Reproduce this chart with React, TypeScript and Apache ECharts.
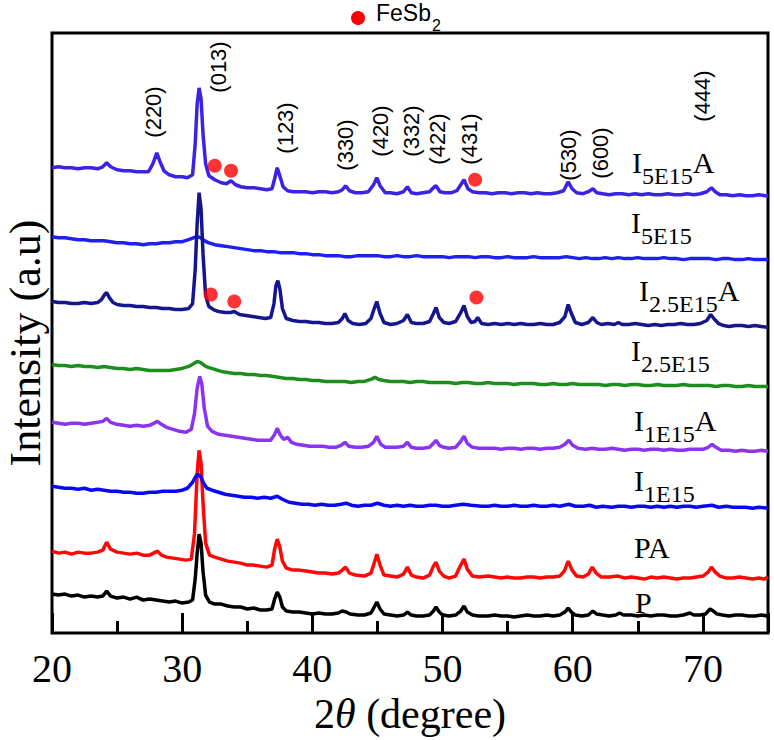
import React, { useEffect, useRef } from "react";
import * as echarts from "echarts";

// 2θ (degree) vs intensity (a.u., curves stacked with offsets)
const seriesNames = ["I5E15A", "I5E15", "I2.5E15A", "I2.5E15", "I1E15A", "PA", "I1E15", "P"];

const dataI5E15A: number[][] = [[20,466],[20.5,467],[21,466],[21.5,466],[22,465],[22.5,466],[23,466],[23.5,465],[23.9,467],[24.2,471],[24.5,467],[25,464],[25.5,463],[26,463],[26.5,462],[27,462],[27.4,462],[27.75,470],[28.05,481],[28.3,472],[28.6,463],[29,459],[29.5,457],[30,457],[30.4,456],[30.8,459],[31.0,490],[31.15,530],[31.3,546],[31.45,535],[31.6,500],[31.8,470],[32.05,458],[32.5,454],[33,451],[33.4,450],[33.75,453],[34.1,449],[34.5,447],[35,446],[35.5,446],[36,445],[36.5,444],[36.9,445],[37.1,455],[37.3,466],[37.5,458],[37.75,447],[38.1,443],[38.5,442],[39,442],[39.5,442],[40,441],[40.5,442],[41,442],[41.5,441],[42,442],[42.3,444],[42.55,448],[42.85,443],[43.3,441],[43.8,441],[44.3,442],[44.7,449],[44.95,456],[45.2,448],[45.6,441],[46,441],[46.5,440],[47,442],[47.3,447],[47.6,441],[48,440],[48.5,441],[49,442],[49.3,446],[49.5,448],[49.8,442],[50.2,441],[50.7,441],[51.1,443],[51.4,449],[51.65,454],[51.95,445],[52.3,442],[52.8,441],[53.3,441],[53.8,440],[54.3,441],[54.8,441],[55.3,440],[55.8,441],[56.3,441],[56.8,440],[57.3,441],[57.8,440],[58.3,440],[58.8,441],[59.3,443],[59.65,452],[59.95,445],[60.3,441],[60.8,440],[61.2,442],[61.55,445],[61.85,441],[62.3,440],[62.8,439],[63.3,440],[63.8,440],[64.3,439],[64.8,440],[65.3,439],[65.8,440],[66.3,439],[66.8,439],[67.3,440],[67.8,439],[68.3,439],[68.8,440],[69.3,439],[69.8,440],[70.3,442],[70.65,446],[70.95,442],[71.3,439],[71.8,439],[72.3,438],[72.8,439],[73.3,438],[73.8,438],[74.3,439],[74.8,438],[75,438]];

const dataI5E15: number[][] = [[20,397],[20.5,396],[21,396],[21.5,395],[22,394],[22.5,394],[23,393],[23.5,393],[24,393],[24.5,392],[25,391],[25.5,391],[26,390],[26.5,390],[27,389],[27.5,390],[28,390],[28.5,391],[29,391],[29.5,392],[30,392],[30.5,394],[30.9,396],[31.15,397],[31.4,396],[31.7,393],[32,391],[32.5,389],[33,388],[33.5,387],[34,386],[34.5,385],[35,384],[35.5,383],[36,383],[36.5,382],[37,382],[37.5,381],[38,381],[38.5,381],[39,380],[39.5,380],[40,379],[40.5,379],[41,378],[41.5,378],[42,378],[42.5,377],[43,377],[43.5,378],[44,378],[44.5,378],[45,378],[45.5,377],[46,377],[46.5,378],[47,377],[47.5,377],[48,378],[48.5,377],[49,377],[49.5,377],[50,377],[50.5,376],[51,377],[51.5,377],[52,377],[52.5,376],[53,377],[53.5,377],[54,376],[54.5,376],[55,377],[55.5,376],[56,376],[56.5,376],[57,377],[57.5,376],[58,376],[58.5,376],[59,376],[59.5,377],[60,376],[60.5,375],[61,376],[61.5,375],[62,375],[62.5,376],[63,375],[63.5,376],[64,375],[64.5,375],[65,376],[65.5,375],[66,375],[66.5,375],[67,376],[67.5,375],[68,375],[68.5,374],[69,375],[69.5,375],[70,375],[70.5,375],[71,374],[71.5,375],[72,375],[72.5,374],[73,374],[73.5,375],[74,374],[74.5,374],[75,374]];

const dataI25E15A: number[][] = [[20,332],[20.5,331],[21,331],[21.5,330],[22,330],[22.5,331],[23,330],[23.5,331],[23.8,334],[24.05,339],[24.2,341],[24.4,336],[24.7,331],[25,329],[25.5,328],[26,328],[26.5,327],[27,327],[27.5,326],[28,326],[28.5,325],[29,325],[29.5,324],[30,324],[30.5,325],[30.8,330],[31.0,364],[31.15,410],[31.3,441],[31.45,425],[31.6,380],[31.8,338],[32.05,327],[32.4,324],[32.8,322],[33.3,321],[33.7,321],[34,322],[34.4,319],[34.9,318],[35.4,317],[35.9,316],[36.4,315],[36.8,316],[37.05,330],[37.2,348],[37.35,353],[37.5,345],[37.7,325],[38,315],[38.5,313],[39,312],[39.5,312],[40,311],[40.5,311],[41,310],[41.5,310],[42,311],[42.3,315],[42.5,320],[42.75,313],[43.1,310],[43.6,309],[44.1,310],[44.5,315],[44.75,325],[44.95,332],[45.2,320],[45.5,311],[46,309],[46.5,310],[47,313],[47.3,319],[47.6,311],[48,310],[48.5,310],[49,312],[49.3,320],[49.5,326],[49.75,316],[50.1,311],[50.5,310],[51,312],[51.4,321],[51.65,328],[51.9,317],[52.2,311],[52.5,312],[52.7,316],[53,310],[53.5,309],[54,310],[54.5,309],[55,310],[55.5,309],[56,310],[56.5,309],[57,309],[57.5,310],[58,309],[58.5,309],[59,311],[59.4,317],[59.65,329],[59.9,320],[60.2,311],[60.7,309],[61.2,311],[61.55,316],[61.85,311],[62.2,309],[62.7,310],[63.2,309],[63.5,311],[63.8,309],[64.3,309],[64.8,310],[65.3,309],[65.8,308],[66.3,309],[66.8,308],[67.3,309],[67.8,309],[68.3,310],[68.8,309],[69.3,309],[69.8,310],[70.3,313],[70.6,319],[70.9,314],[71.2,310],[71.6,308],[72,307],[72.5,308],[73,308],[73.5,307],[74,308],[74.5,307],[75,306]];

const dataI25E15: number[][] = [[20,269],[20.5,268],[21,268],[21.5,267],[22,268],[22.5,267],[23,267],[23.5,266],[24,267],[24.5,266],[25,265],[25.5,265],[26,264],[26.5,265],[27,264],[27.5,263],[28,263],[28.5,263],[29,263],[29.5,264],[30,265],[30.5,267],[30.9,270],[31.15,272],[31.4,271],[31.7,268],[32,266],[32.5,264],[33,262],[33.5,261],[34,260],[34.5,260],[35,259],[35.5,259],[36,258],[36.5,258],[37,257],[37.5,256],[38,255],[38.5,255],[39,254],[39.5,254],[40,253],[40.5,253],[41,252],[41.5,252],[42,252],[42.5,252],[43,251],[43.5,252],[44,252],[44.5,254],[44.8,256],[45.1,254],[45.5,253],[46,252],[46.5,252],[47,252],[47.5,251],[48,252],[48.5,252],[49,251],[49.5,251],[50,251],[50.5,251],[51,250],[51.5,251],[52,251],[52.5,250],[53,250],[53.5,251],[54,250],[54.5,250],[55,250],[55.5,249],[56,250],[56.5,250],[57,250],[57.5,249],[58,249],[58.5,250],[59,249],[59.5,249],[60,250],[60.5,249],[61,249],[61.5,249],[62,249],[62.5,248],[63,249],[63.5,249],[64,248],[64.5,249],[65,249],[65.5,248],[66,248],[66.5,249],[67,248],[67.5,248],[68,248],[68.5,249],[69,248],[69.5,248],[70,248],[70.5,248],[71,247],[71.5,248],[72,248],[72.5,247],[73,247],[73.5,248],[74,247],[74.5,247],[75,247]];

const dataI1E15A: number[][] = [[20,211],[20.5,210],[21,209],[21.5,210],[22,210],[22.5,209],[23,210],[23.5,211],[23.9,212],[24.2,215],[24.5,211],[25,209],[25.5,208],[26,207],[26.5,208],[27,207],[27.5,208],[27.8,210],[28.1,212],[28.4,209],[28.8,206],[29.3,204],[29.8,202],[30.3,201],[30.7,204],[30.95,220],[31.15,245],[31.35,257],[31.5,250],[31.7,225],[31.95,207],[32.3,202],[32.8,199],[33.3,198],[33.8,197],[34.3,196],[34.8,195],[35.3,194],[35.8,193],[36.3,193],[36.8,193],[37.1,199],[37.3,205],[37.55,198],[37.8,194],[38.1,196],[38.4,191],[38.8,189],[39.3,188],[39.8,187],[40.3,187],[40.8,187],[41.3,186],[41.8,186],[42.2,188],[42.5,191],[42.8,187],[43.3,186],[43.8,186],[44.3,187],[44.7,191],[44.95,197],[45.25,189],[45.6,186],[46,186],[46.5,186],[47,187],[47.3,191],[47.6,186],[48,185],[48.5,185],[49,186],[49.3,190],[49.5,193],[49.75,188],[50.1,186],[50.5,185],[51,186],[51.4,192],[51.65,197],[51.9,190],[52.3,186],[52.8,185],[53.5,185],[54,185],[54.5,184],[55,185],[55.5,185],[56,184],[56.5,185],[57,185],[57.5,184],[58,185],[58.5,185],[59,186],[59.4,189],[59.7,193],[60,188],[60.4,185],[61,184],[61.5,185],[62,184],[62.5,184],[63,185],[63.5,184],[64,183],[64.5,184],[65,184],[65.5,183],[66,184],[66.5,184],[67,183],[67.5,184],[68,183],[68.5,183],[69,184],[69.5,184],[70,184],[70.4,186],[70.7,189],[71,186],[71.4,183],[72,183],[72.5,182],[73,183],[73.5,182],[74,182],[74.5,183],[75,182]];

const dataI1E15: number[][] = [[20,147],[20.5,146],[21,145],[21.5,145],[22,144],[22.5,145],[23,143],[23.5,144],[24,143],[24.5,142],[25,142],[25.5,141],[26,141],[26.5,140],[27,140],[27.5,141],[28,141],[28.5,142],[29,142],[29.5,142],[30,143],[30.4,145],[30.8,151],[31.05,157],[31.2,159],[31.4,157],[31.65,150],[31.9,145],[32.3,143],[32.8,141],[33.3,139],[33.8,138],[34.3,137],[34.8,136],[35.3,136],[35.8,135],[36.3,136],[36.8,135],[37.3,137],[37.7,134],[38.2,131],[38.7,130],[39.2,129],[39.7,129],[40.2,128],[40.7,129],[41.2,128],[41.7,128],[42.2,129],[42.6,130],[43,128],[43.5,127],[44,128],[44.5,128],[45,130],[45.5,128],[46,127],[46.5,128],[47,127],[47.5,128],[48,127],[48.5,127],[49,128],[49.5,128],[50,127],[50.5,127],[51,128],[51.6,129],[52.2,128],[53,127],[53.5,127],[54,128],[54.5,127],[55,127],[55.5,128],[56,127],[56.5,127],[57,128],[57.5,127],[58,127],[58.5,128],[59,127],[59.7,129],[60.2,127],[60.8,127],[61.3,128],[61.8,126],[62.3,127],[63,126],[63.5,127],[64,127],[64.5,126],[65,127],[65.5,127],[66,126],[66.5,127],[67,126],[67.5,127],[68,126],[68.5,127],[69,127],[69.5,126],[70,127],[70.7,128],[71.2,126],[71.8,127],[72.3,126],[72.8,126],[73.3,126],[73.8,125],[74.3,126],[75,125]];

const dataPA: number[][] = [[20,82],[20.5,80],[21,81],[21.5,79],[22,81],[22.5,80],[23,80],[23.5,81],[23.9,83],[24.2,91],[24.5,84],[25,81],[25.5,80],[26,79],[26.5,80],[27,78],[27.5,78],[27.8,80],[28.1,82],[28.4,78],[28.8,76],[29.3,75],[29.8,74],[30.3,73],[30.7,74],[30.95,100],[31.15,160],[31.3,183],[31.45,170],[31.6,130],[31.8,90],[32.1,78],[32.5,76],[33,74],[33.5,72],[34,71],[34.5,70],[35,68],[35.5,68],[36,67],[36.5,66],[36.9,68],[37.1,84],[37.3,94],[37.5,86],[37.7,72],[38,65],[38.5,63],[39,63],[39.5,62],[40,61],[40.5,60],[41,60],[41.5,59],[42,60],[42.3,63],[42.55,66],[42.85,60],[43.3,58],[44,57],[44.5,60],[44.75,70],[44.95,79],[45.2,68],[45.5,58],[46,57],[46.5,56],[47,59],[47.3,66],[47.6,58],[48,56],[48.5,55],[49,58],[49.3,67],[49.5,71],[49.75,62],[50.1,57],[50.5,55],[51,57],[51.4,68],[51.65,74],[51.9,64],[52.3,57],[52.8,56],[53.5,57],[54,56],[54.5,55],[55,56],[55.5,55],[56,55],[56.5,56],[57,56],[57.5,55],[58,56],[58.5,56],[59,57],[59.35,62],[59.65,72],[59.95,63],[60.3,57],[60.8,56],[61.2,59],[61.5,66],[61.8,60],[62.2,56],[62.8,56],[63.5,57],[64,55],[64.5,56],[65,55],[65.5,54],[66,56],[66.5,55],[67,56],[67.5,55],[68,54],[68.5,55],[69,55],[69.5,56],[70,57],[70.4,61],[70.65,66],[70.95,61],[71.3,57],[71.8,55],[72.3,55],[72.8,56],[73.3,55],[73.8,54],[74.3,55],[74.7,54],[75,56]];

const dataP: number[][] = [[20,39],[20.5,38],[21,39],[21.5,37],[22,38],[22.5,36],[23,37],[23.5,36],[23.9,37],[24.2,42],[24.5,37],[25,35],[25.5,36],[26,34],[26.5,36],[27,33],[27.5,34],[28,33],[28.5,32],[29,31],[29.5,32],[30,30],[30.5,31],[30.8,33],[31.0,54],[31.15,80],[31.3,99],[31.45,90],[31.6,62],[31.8,38],[32.1,31],[32.5,29],[33,29],[33.5,27],[34,26],[34.5,26],[35,24],[35.5,25],[36,23],[36.5,23],[36.9,24],[37.1,34],[37.3,41],[37.5,36],[37.7,26],[38,22],[38.5,21],[39,21],[39.5,20],[40,19],[40.5,20],[41,19],[41.5,19],[42,20],[42.3,22],[42.6,21],[42.9,19],[43.5,18],[44,18],[44.5,20],[44.75,26],[44.95,31],[45.2,24],[45.5,19],[46,18],[46.5,17],[47,18],[47.3,21],[47.6,18],[48,17],[48.5,17],[49,18],[49.3,22],[49.5,26],[49.75,21],[50,18],[50.5,17],[51,18],[51.4,22],[51.65,27],[51.9,21],[52.3,18],[52.8,17],[53.5,17],[54,18],[54.5,17],[55,17],[55.5,16],[56,17],[56.5,18],[57,17],[57.5,17],[58,18],[58.5,17],[59,18],[59.4,21],[59.65,25],[59.9,21],[60.2,18],[60.7,17],[61.2,18],[61.55,22],[61.85,19],[62.3,18],[62.8,17],[63.3,18],[63.6,20],[63.9,18],[64.5,18],[65,17],[65.5,18],[66,17],[66.5,18],[67,18],[67.5,17],[68,17],[68.5,18],[69,20],[69.3,18],[69.8,18],[70.2,19],[70.55,24],[70.8,22],[71.1,19],[71.5,18],[72,17],[72.5,18],[73,18],[73.5,17],[74,17],[74.5,18],[75,17]];

// FeSb2 impurity markers [2θ, intensity]
const feSb2Markers: number[][] = [[32.5,468],[33.75,463],[52.5,454],[32.2,339],[34.0,332],[52.6,336]];

// x tick labels
const xTickLabels = [20, 30, 40, 50, 60, 70];

const seriesData = [dataI5E15A, dataI5E15, dataI25E15A, dataI25E15, dataI1E15A, dataPA, dataI1E15, dataP];
const seriesColors = ["#3b22e4", "#1d20ef", "#15168e", "#1d8e1d", "#8a33f2", "#ff0707", "#0808f4", "#000000"];

const SERIF = "Liberation Serif";
const SANS = "Liberation Sans";

function measure(text: string, size: number, family: string): number {
  const c = document.createElement("canvas").getContext("2d");
  if (!c) return text.length * size * 0.5;
  c.font = `${size}px "${family}"`;
  return c.measureText(text).width;
}

export default function App() {
  const ref = useRef<HTMLDivElement>(null);
  useEffect(() => {
    document.body.style.margin = "0";
    const chart = echarts.init(ref.current as HTMLDivElement, null, { renderer: "svg" });

    const lineSeries = seriesNames.map((name, i) => ({
      name,
      type: "line",
      data: seriesData[i],
      showSymbol: false,
      symbol: "none",
      lineStyle: { color: seriesColors[i], width: 3.5 },
      itemStyle: { color: seriesColors[i] },
      xAxisIndex: 0,
      yAxisIndex: 0,
    }));

    chart.setOption({
      animation: false,
      backgroundColor: "#ffffff",
      textStyle: { fontFamily: SERIF },
      grid: { left: 52, right: 6, top: 33, bottom: 106, show: true, borderColor: "#000", borderWidth: 3, backgroundColor: "transparent" },
      xAxis: [
        {
          type: "value",
          min: 20,
          max: 75,
          interval: 10,
          position: "bottom",
          axisLine: { show: false },
          axisTick: { show: true, inside: true, length: 20, lineStyle: { color: "#000", width: 3 } },
          axisLabel: { show: false },
          splitLine: { show: false },
          name: "{n|2}{i|θ}{n| (degree)}",
          nameLocation: "middle",
          nameGap: 60,
          nameTextStyle: {
            rich: {
              n: { fontSize: 42, fontFamily: SERIF, color: "#000", lineHeight: 42 },
              i: { fontSize: 42, fontFamily: SERIF, fontStyle: "italic", color: "#000", lineHeight: 42 },
            },
          },
        },
        {
          type: "value",
          min: 20,
          max: 75,
          interval: 5,
          position: "bottom",
          axisLine: { show: false },
          axisTick: { show: true, inside: true, length: 12, lineStyle: { color: "#000", width: 3 } },
          axisLabel: { show: false },
          splitLine: { show: false },
        },
      ],
      yAxis: { type: "value", min: 0, max: 601, show: false },
      series: [
        ...lineSeries,
        {
          name: "FeSb2",
          type: "scatter",
          data: feSb2Markers,
          symbol: "circle",
          symbolSize: 14,
          itemStyle: { color: "#ff0000" },
          z: 5,
        },
      ],
    });

    // tick labels placed through the axis scale
    const tickLabelGraphics = xTickLabels.map((v) => {
      const px = chart.convertToPixel({ xAxisIndex: 0 }, v) as number;
      return {
        type: "text",
        x: px,
        y: 668,
        z: 100,
        style: { text: String(v), fontSize: 40, lineHeight: 30, fontFamily: SERIF, fill: "#000", align: "center", verticalAlign: "middle" },
      };
    });

    // curve labels: main text, subscript, tail; (x, y) is top of main text box
    const curveLabels = [
      { main: "I", sub: "5E15", tail: "A", x: 632, y: 147 },
      { main: "I", sub: "5E15", tail: "", x: 631, y: 207 },
      { main: "I", sub: "2.5E15", tail: "A", x: 639, y: 275 },
      { main: "I", sub: "2.5E15", tail: "", x: 631, y: 335 },
      { main: "I", sub: "1E15", tail: "A", x: 634, y: 405 },
      { main: "I", sub: "1E15", tail: "", x: 634, y: 465 },
      { main: "PA", sub: "", tail: "", x: 634, y: 532 },
      { main: "P", sub: "", tail: "", x: 635, y: 587 },
    ];
    const MS = 30;
    const SS = 24;
    const subDrop = 17;
    const labelGraphics: any[] = [];
    curveLabels.forEach((l) => {
      const wMain = measure(l.main, MS, SERIF);
      labelGraphics.push({
        type: "text", x: l.x, y: l.y, z: 100,
        style: { text: l.main, fontSize: MS, fontFamily: SERIF, fill: "#000", align: "left", verticalAlign: "top" },
      });
      if (l.sub) {
        const wSub = measure(l.sub, SS, SERIF);
        labelGraphics.push({
          type: "text", x: l.x + wMain, y: l.y + subDrop, z: 100,
          style: { text: l.sub, fontSize: SS, fontFamily: SERIF, fill: "#000", align: "left", verticalAlign: "top" },
        });
        if (l.tail) {
          labelGraphics.push({
            type: "text", x: l.x + wMain + wSub, y: l.y, z: 100,
            style: { text: l.tail, fontSize: MS, fontFamily: SERIF, fill: "#000", align: "left", verticalAlign: "top" },
          });
        }
      }
    });

    const hkl = [
      { t: "(220)", x: 153, y: 112 },
      { t: "(013)", x: 218, y: 67 },
      { t: "(123)", x: 285, y: 128 },
      { t: "(330)", x: 345, y: 145 },
      { t: "(420)", x: 380, y: 131 },
      { t: "(332)", x: 411, y: 131 },
      { t: "(422)", x: 437, y: 139 },
      { t: "(431)", x: 469, y: 139 },
      { t: "(530)", x: 568, y: 155 },
      { t: "(600)", x: 600, y: 153 },
      { t: "(444)", x: 702, y: 96 },
    ];
    const hklGraphics = hkl.map((h) => ({
      type: "text",
      x: h.x,
      y: h.y,
      rotation: Math.PI / 2,
      z: 100,
      style: { text: h.t, fontSize: 22, fontFamily: SANS, fill: "#000", align: "center", verticalAlign: "middle" },
    }));

    // FeSb2 key
    const wFeSb = measure("FeSb", 23, SANS);
    const keyGraphics = [
      { type: "circle", shape: { cx: 358, cy: 18, r: 7 }, style: { fill: "#ff0000" }, z: 100 },
      { type: "text", x: 376, y: 3, z: 100, style: { text: "FeSb", fontSize: 23, lineHeight: 20, fontFamily: SANS, fill: "#000", align: "left", verticalAlign: "top" } },
      { type: "text", x: 376 + wFeSb + 1, y: 17, z: 100, style: { text: "2", fontSize: 16, fontFamily: SANS, fill: "#000", align: "left", verticalAlign: "top" } },
    ];

    chart.setOption({
      graphic: [
        ...tickLabelGraphics,
        ...labelGraphics,
        ...hklGraphics,
        ...keyGraphics,
        {
          type: "text",
          x: 25,
          y: 343,
          rotation: Math.PI / 2,
          style: { text: "Intensity (a.u)", fontSize: 44, fontFamily: SERIF, fill: "#000", align: "center", verticalAlign: "middle" },
        },
      ],
    });
    return () => chart.dispose();
  }, []);
  return <div ref={ref} style={{ width: 774, height: 740 }} />;
}
